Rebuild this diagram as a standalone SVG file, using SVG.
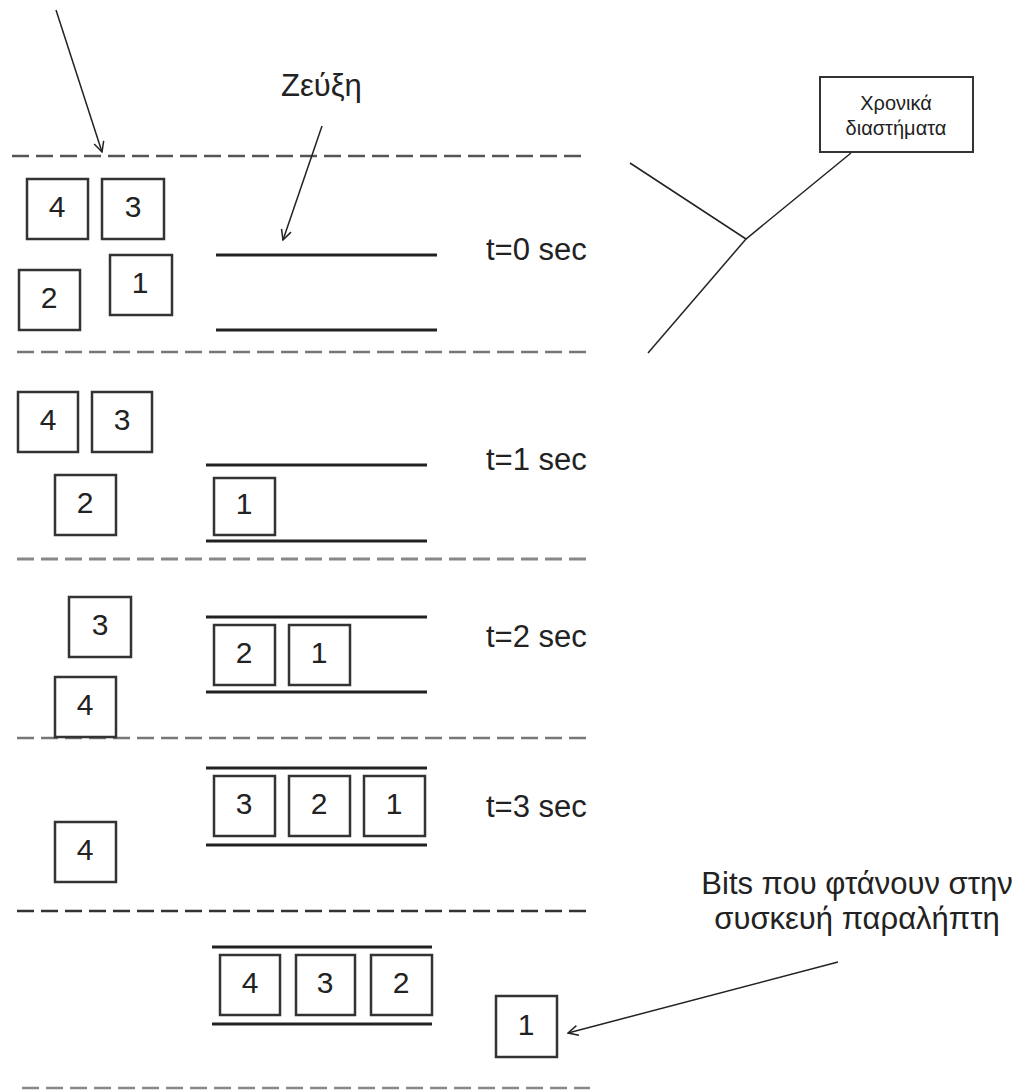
<svg xmlns="http://www.w3.org/2000/svg" width="1028" height="1091" viewBox="0 0 1028 1091">
<style>
text{font-family:"Liberation Sans",Arial,sans-serif;fill:#222}
.n{font-size:30px;text-anchor:middle}
.t{font-size:31px}
.box{fill:#fff;stroke:#333;stroke-width:2.5}
.ch{stroke:#222;stroke-width:3}
.dash{stroke:#555;stroke-width:2.5;stroke-dasharray:17 7;fill:none}
.ln{stroke:#222;stroke-width:1.5;fill:none}
</style>
<defs>
<marker id="ah" viewBox="0 0 12 12" refX="11" refY="6" markerWidth="12" markerHeight="12" markerUnits="userSpaceOnUse" orient="auto">
<path d="M1,1 L11,6 L1,11" fill="none" stroke="#222" stroke-width="1.5"/>
</marker>
</defs>
<g id="separators">
<line class="dash" x1="12" y1="156" x2="582" y2="156"/>
<line class="dash" x1="17" y1="352" x2="587" y2="352" style="stroke:#777"/>
<line class="dash" x1="17" y1="559" x2="587" y2="559" style="stroke:#888;stroke-width:3"/>
<line class="dash" x1="17" y1="738" x2="587" y2="738" style="stroke:#777"/>
<line class="dash" x1="17" y1="911" x2="587" y2="911" style="stroke:#333"/>
<line class="dash" x1="22" y1="1088" x2="590" y2="1088" style="stroke:#888"/>
</g>
<g id="channels">
<line class="ch" x1="216" y1="255" x2="437" y2="255"/>
<line class="ch" x1="216" y1="330" x2="437" y2="330"/>
<line class="ch" x1="206" y1="465" x2="427" y2="465"/>
<line class="ch" x1="206" y1="541" x2="427" y2="541"/>
<line class="ch" x1="206" y1="617" x2="427" y2="617"/>
<line class="ch" x1="206" y1="692" x2="427" y2="692"/>
<line class="ch" x1="206" y1="768" x2="427" y2="768"/>
<line class="ch" x1="206" y1="845" x2="427" y2="845"/>
<line class="ch" x1="212" y1="947" x2="432" y2="947"/>
<line class="ch" x1="212" y1="1024" x2="432" y2="1024"/>
</g>
<g id="t0-bits">
<g id="t0-b4"><rect class="box" x="27" y="179" width="61" height="60"/><text class="n" x="57" y="217">4</text></g>
<g id="t0-b3"><rect class="box" x="102" y="179" width="62" height="60"/><text class="n" x="133" y="217">3</text></g>
<g id="t0-b2"><rect class="box" x="19" y="270" width="61" height="60"/><text class="n" x="49" y="308">2</text></g>
<g id="t0-b1"><rect class="box" x="110" y="255" width="62" height="60"/><text class="n" x="140" y="293">1</text></g>
</g>
<g id="t1-bits">
<g id="t1-b4"><rect class="box" x="18" y="392" width="60" height="60"/><text class="n" x="48" y="430">4</text></g>
<g id="t1-b3"><rect class="box" x="92" y="392" width="60" height="60"/><text class="n" x="122" y="430">3</text></g>
<g id="t1-b2"><rect class="box" x="55" y="475" width="61" height="60"/><text class="n" x="85" y="513">2</text></g>
<g id="t1-b1"><rect class="box" x="214" y="478" width="61" height="57"/><text class="n" x="244" y="514">1</text></g>
</g>
<g id="t2-bits">
<g id="t2-b3"><rect class="box" x="69" y="597" width="62" height="60"/><text class="n" x="100" y="635">3</text></g>
<g id="t2-b4"><rect class="box" x="55" y="677" width="61" height="60"/><text class="n" x="85" y="715">4</text></g>
<g id="t2-b2"><rect class="box" x="214" y="625" width="61" height="60"/><text class="n" x="244" y="663">2</text></g>
<g id="t2-b1"><rect class="box" x="289" y="625" width="61" height="60"/><text class="n" x="319" y="663">1</text></g>
</g>
<g id="t3-bits">
<g id="t3-b3"><rect class="box" x="214" y="776" width="61" height="60"/><text class="n" x="244" y="814">3</text></g>
<g id="t3-b2"><rect class="box" x="289" y="776" width="61" height="60"/><text class="n" x="319" y="814">2</text></g>
<g id="t3-b1"><rect class="box" x="364" y="776" width="61" height="60"/><text class="n" x="394" y="814">1</text></g>
<g id="t3-b4"><rect class="box" x="55" y="822" width="61" height="60"/><text class="n" x="85" y="860">4</text></g>
</g>
<g id="t4-bits">
<g id="t4-b4"><rect class="box" x="220" y="955" width="60" height="60"/><text class="n" x="250" y="993">4</text></g>
<g id="t4-b3"><rect class="box" x="296" y="955" width="59" height="60"/><text class="n" x="325" y="993">3</text></g>
<g id="t4-b2"><rect class="box" x="371" y="955" width="61" height="60"/><text class="n" x="401" y="993">2</text></g>
<g id="t4-b1"><rect class="box" x="496" y="996" width="61" height="61"/><text class="n" x="526" y="1035">1</text></g>
</g>
<g id="time-labels">
<text class="t" x="486" y="260">t=0 sec</text>
<text class="t" x="486" y="470">t=1 sec</text>
<text class="t" x="486" y="647">t=2 sec</text>
<text class="t" x="486" y="817">t=3 sec</text>
</g>
<g id="label-link"><text x="281" y="96" style="font-size:31px">Ζεύξη</text></g>
<g id="label-intervals">
<rect x="820" y="77" width="153" height="75" fill="#fff" stroke="#333" stroke-width="2"/>
<text x="896" y="110" style="font-size:20px;text-anchor:middle">Χρονικά</text>
<text x="896" y="135" style="font-size:20px;text-anchor:middle">διαστήματα</text>
</g>
<g id="label-received">
<text x="857" y="894" style="font-size:31px;text-anchor:middle">Bits που φτάνουν στην</text>
<text x="857" y="929" style="font-size:31px;text-anchor:middle">συσκευή παραλήπτη</text>
</g>
<g id="connectors">
<line class="ln" x1="56" y1="10" x2="102" y2="152" marker-end="url(#ah)"/>
<line class="ln" x1="322" y1="126" x2="283" y2="240" marker-end="url(#ah)"/>
<line class="ln" x1="838" y1="962" x2="568" y2="1033" marker-end="url(#ah)"/>
<polyline class="ln" points="630,163 746,239 851,153"/>
<line class="ln" x1="746" y1="239" x2="648" y2="353"/>
</g>
</svg>
